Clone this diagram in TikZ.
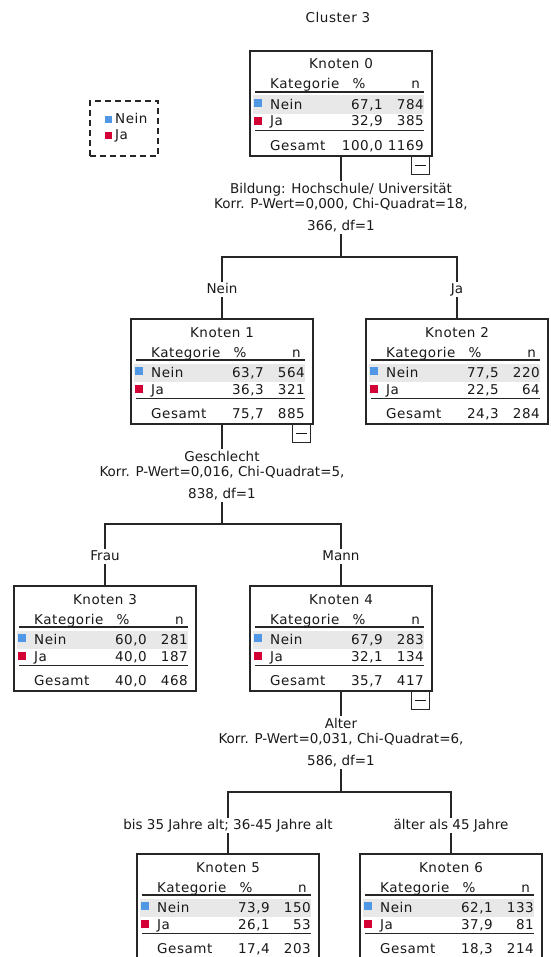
\documentclass[tikz,border=0pt]{standalone}
\usepackage{fontspec}
\setmainfont{DejaVu Sans}
\newfontfamily\tabfont{DejaVu Sans}[LetterSpace=4]
\usetikzlibrary{positioning}

\definecolor{neinblau}{RGB}{80,152,230}
\definecolor{jarot}{RGB}{210,0,52}
\definecolor{zeilgrau}{RGB}{232,232,232}

% one tree node: name, position (top centre), number, Nein %/n, Ja %/n, Gesamt %/n
\newcommand{\knoten}[9]{%
  \node[knotenbox] (#1) at (#2) {};
  \fill[zeilgrau] ([shift={(3,44.5)}]#1.north west) rectangle ([shift={(174,63)}]#1.north west);
  \fill[neinblau] ([shift={(4,48)}]#1.north west) rectangle ++(8,8);
  \fill[jarot] ([shift={(4,66)}]#1.north west) rectangle ++(8,8);
  \draw[regel] ([shift={(5,41)}]#1.north west) -- ++(169,0);
  \draw[regel] ([shift={(5,79.5)}]#1.north west) -- ++(169,0);
  \node[zelle, anchor=base] (#1-titel) at ([shift={(91,18)}]#1.north west) {Knoten #3};
  \node[zelle, anchor=base west] (#1-kat) at ([shift={(20,38)}]#1.north west) {Kategorie};
  \node[zelle, anchor=base] (#1-proz) at ([shift={(109,38)}]#1.north west) {\%};
  \node[zelle, anchor=base east] (#1-n) at ([shift={(170,38)}]#1.north west) {n};
  \node[zelle, anchor=base west] (#1-nein) at ([shift={(20,58.5)}]#1.north west) {Nein};
  \node[zelle, anchor=base east] (#1-neinp) at ([shift={(133,58.5)}]#1.north west) {#4};
  \node[zelle, anchor=base east] (#1-neinn) at ([shift={(174,58.5)}]#1.north west) {#5};
  \node[zelle, anchor=base west] (#1-ja) at ([shift={(20,75)}]#1.north west) {Ja};
  \node[zelle, anchor=base east] (#1-jap) at ([shift={(133,75)}]#1.north west) {#6};
  \node[zelle, anchor=base east] (#1-jan) at ([shift={(174,75)}]#1.north west) {#7};
  \node[zelle, anchor=base west] (#1-ges) at ([shift={(20,99.5)}]#1.north west) {Gesamt};
  \node[zelle, anchor=base east] (#1-gesp) at ([shift={(133,99.5)}]#1.north west) {#8};
  \node[zelle, anchor=base east] (#1-gesn) at ([shift={(174,99.5)}]#1.north west) {#9};
}

\begin{document}
\begin{tikzpicture}[x=1pt, y=-1pt,
    every node/.style={font=\fontsize{13.5}{15}\selectfont, text=black!90},
    knotenbox/.style={draw=black!85, line width=1.2pt, anchor=north, minimum width=182pt, minimum height=105pt, inner sep=0pt, outer sep=0pt},
    zelle/.style={inner sep=0pt, font=\tabfont\fontsize{13.5}{15}\selectfont},
    regel/.style={line width=1.8pt, black!85},
    minusbox/.style={draw=black!85, line width=1.2pt, minimum size=18pt, inner sep=0pt, anchor=north east},
    teiler/.style={align=center, inner sep=2pt, anchor=north},
    ast/.style={inner sep=1pt, text height=10pt, text depth=3pt, anchor=base},
    verbindung/.style={line width=1.2pt, black!85},
    legende/.style={draw=black!85, dash pattern=on 6pt off 4pt, line width=1.2pt, minimum width=68pt, minimum height=55pt}
]
\useasboundingbox (0,0) rectangle (550,957);
\clip (0,0) rectangle (550,957);

% Title and legend
\node[zelle, anchor=base] (titel) at (338,23) {Cluster 3};
\node[legende] (legende) at (124,128.5) {};
\fill[neinblau] (105,116) rectangle ++(7,7);
\node[zelle, anchor=base west] (leg-nein) at (115,124) {Nein};
\fill[jarot] (105,132) rectangle ++(7,7);
\node[zelle, anchor=base west] (leg-ja) at (115,140) {Ja};

% Tree nodes
\knoten{k0}{341,51}{0}{67,1}{784}{32,9}{385}{100,0}{1169}
\knoten{k1}{222,319}{1}{63,7}{564}{36,3}{321}{75,7}{885}
\knoten{k2}{457,319}{2}{77,5}{220}{22,5}{64}{24,3}{284}
\knoten{k3}{105,586}{3}{60,0}{281}{40,0}{187}{40,0}{468}
\knoten{k4}{341,586}{4}{67,9}{283}{32,1}{134}{35,7}{417}
\knoten{k5}{228,854}{5}{73,9}{150}{26,1}{53}{17,4}{203}
\knoten{k6}{451,854}{6}{62,1}{133}{37,9}{81}{18,3}{214}

% Collapse boxes
\node[minusbox] (k0-minus) at ([xshift=-2pt]k0.south east) {\rule{11pt}{1.2pt}};
\node[minusbox] (k1-minus) at ([xshift=-2pt]k1.south east) {\rule{11pt}{1.2pt}};
\node[minusbox] (k4-minus) at ([xshift=-2pt]k4.south east) {\rule{11pt}{1.2pt}};

% Splits
\node[teiler] (s0) at (341,181) {Bildung: Hochschule/ Universität\\Korr. P-Wert=0,000, Chi-Quadrat=18,\\[7pt]366, df=1};
\node[teiler] (s1) at (222,449) {Geschlecht\\Korr. P-Wert=0,016, Chi-Quadrat=5,\\[7pt]838, df=1};
\node[teiler] (s2) at (341,716) {Alter\\Korr. P-Wert=0,031, Chi-Quadrat=6,\\[7pt]586, df=1};

\coordinate (j0) at (341,257);
\coordinate (j1) at (222,524);
\coordinate (j2) at (341,792);

% Branch labels
\node[ast] (a1) at (222,293) {Nein};
\node[ast] (a2) at (457,293) {Ja};
\node[ast] (a3) at (105,560) {Frau};
\node[ast] (a4) at (341,560) {Mann};
\node[ast] (a5) at (228,829) {bis 35 Jahre alt; 36-45 Jahre alt};
\node[ast] (a6) at (451,829) {älter als 45 Jahre};

% Connectors
\draw[verbindung] (k0) -- (s0);
\draw[verbindung] (s0) -- (j0);
\draw[verbindung] (j0) -| (a1);
\draw[verbindung] (j0) -| (a2);
\draw[verbindung] (a1) -- (k1);
\draw[verbindung] (a2) -- (k2);

\draw[verbindung] (k1) -- (s1);
\draw[verbindung] (s1) -- (j1);
\draw[verbindung] (j1) -| (a3);
\draw[verbindung] (j1) -| (a4);
\draw[verbindung] (a3) -- (k3);
\draw[verbindung] (a4) -- (k4);

\draw[verbindung] (k4) -- (s2);
\draw[verbindung] (s2) -- (j2);
\draw[verbindung] (j2) -| (a5);
\draw[verbindung] (j2) -| (a6);
\draw[verbindung] (a5) -- (k5);
\draw[verbindung] (a6) -- (k6);

\end{tikzpicture}
\end{document}
